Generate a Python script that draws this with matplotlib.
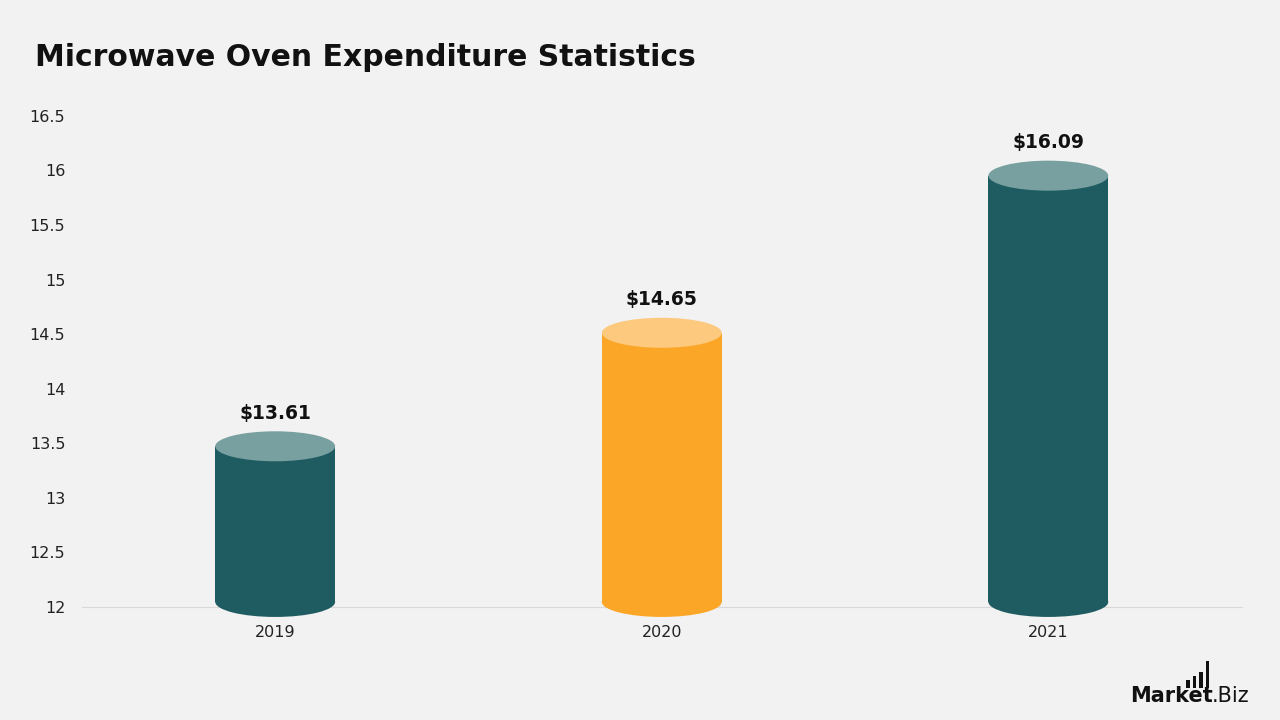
import matplotlib.pyplot as plt
from matplotlib.patches import Ellipse, Rectangle

years = ["2019", "2020", "2021"]
values = [13.61, 14.65, 16.09]
labels = ["$13.61", "$14.65", "$16.09"]
side_colors = ["#1F5C61", "#FBA626", "#1F5C61"]
top_colors = ["#79A0A0", "#FDC97E", "#79A0A0"]
yticks = [12, 12.5, 13, 13.5, 14, 14.5, 15, 15.5, 16, 16.5]

bg = "#F2F2F2"
plt.rcParams['font.family'] = ['DejaVu Sans']

fig = plt.figure(figsize=(12.8, 7.2), dpi=100, facecolor=bg)
ax = fig.add_axes([0.064, 0.157, 0.906, 0.682], facecolor=bg)

ax.set_xlim(-0.5, 2.5)
ax.set_ylim(12, 16.5)

w = 0.31          # cylinder width (data units)
eh = 0.275        # ellipse height (data units)
base = 12.046

for i, v in enumerate(values):
    top = v - eh / 2
    ax.add_patch(Rectangle((i - w / 2, base), w, top - base, facecolor=side_colors[i],
                           edgecolor='none', clip_on=False, zorder=3))
    ax.add_patch(Ellipse((i, base), w, eh, facecolor=side_colors[i],
                         edgecolor='none', clip_on=False, zorder=3))
    ax.add_patch(Ellipse((i, top), w, eh, facecolor=top_colors[i],
                         edgecolor='none', clip_on=False, zorder=4))
    ax.annotate(labels[i], (i, v), xytext=(0, 6), textcoords='offset points',
                ha='center', va='bottom', fontsize=13.5, fontweight='bold', color='#111111')

ax.set_xticks(range(len(years)))
ax.set_xticklabels(years)
ax.set_yticks(yticks)
ax.set_yticklabels([f"{t:g}" for t in yticks])
ax.tick_params(axis='both', length=0, labelsize=11.5, colors='#222222')
ax.tick_params(axis='y', pad=12)
ax.tick_params(axis='x', pad=13)

for s in ['top', 'right', 'left']:
    ax.spines[s].set_visible(False)
ax.spines['bottom'].set_color('#D9D9D9')
ax.spines['bottom'].set_zorder(2)

fig.text(35 / 1280, 1 - 58 / 720, "Microwave Oven Expenditure Statistics",
         fontsize=21.5, fontweight='bold', color='#111111', va='center', ha='left')

# logo
fig.text(1130 / 1280, 1 - 702 / 720, "Market", fontsize=15, fontweight='bold',
         color='#111111', ha='left', va='baseline')
fig.text(1212 / 1280, 1 - 702 / 720, ".Biz", fontsize=15, color='#111111',
         ha='left', va='baseline')
for k, h in enumerate([8, 12, 16, 27]):
    x0 = 1186 + k * 6.5
    fig.add_artist(Rectangle((x0 / 1280, 1 - 688 / 720), 3.5 / 1280, h / 720,
                             transform=fig.transFigure, facecolor='#111111', edgecolor='none'))

fig.savefig("out.png", dpi=100, facecolor=bg)
